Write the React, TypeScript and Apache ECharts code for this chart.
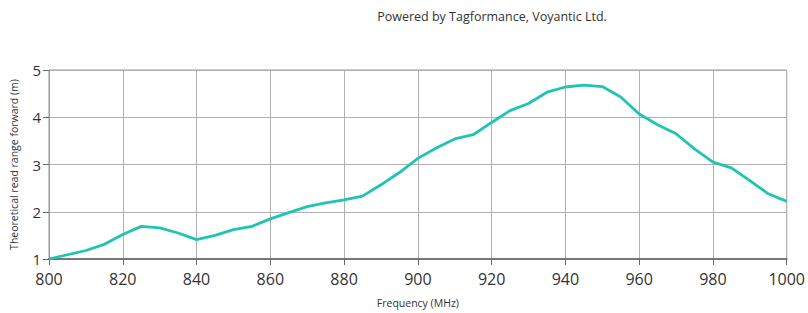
import React, { useEffect, useRef } from "react";
import * as echarts from "echarts";

const frequencies = [800, 805, 810, 815, 820, 825, 830, 835, 840, 845, 850, 855, 860, 865, 870, 875, 880, 885, 890, 895, 900, 905, 910, 915, 920, 925, 930, 935, 940, 945, 950, 955, 960, 965, 970, 975, 980, 985, 990, 995, 1000];
const readRange = [1.0, 1.09, 1.18, 1.31, 1.52, 1.69, 1.66, 1.55, 1.41, 1.5, 1.62, 1.69, 1.85, 1.98, 2.11, 2.19, 2.25, 2.33, 2.57, 2.83, 3.13, 3.35, 3.54, 3.63, 3.89, 4.14, 4.29, 4.53, 4.64, 4.68, 4.65, 4.43, 4.07, 3.84, 3.65, 3.33, 3.05, 2.93, 2.66, 2.38, 2.22];
const titleText = "Powered by Tagformance, Voyantic Ltd.";
const xAxisName = "Frequency (MHz)";
const yAxisName = "Theoretical read range forward (m)";

export default function App() {
  const ref = useRef<HTMLDivElement>(null);
  useEffect(() => {
    if (!ref.current) return;
    const chart = echarts.init(ref.current, null, { renderer: "svg" });
    const font = "'Open Sans', 'DejaVu Sans', sans-serif";
    chart.setOption({
      animation: false,
      backgroundColor: "#ffffff",
      title: {
        text: titleText,
        left: 487,
        top: 5,
        textAlign: "center",
        textStyle: { fontSize: 12.5, fontWeight: "normal", color: "#333", fontFamily: font },
      },
      grid: { left: 45, right: 18, top: 70, bottom: 53, show: true, borderColor: "#999", borderWidth: 1 },
      xAxis: {
        type: "value",
        min: 800,
        max: 1000,
        interval: 20,
        name: xAxisName,
        nameLocation: "middle",
        nameGap: 38,
        nameTextStyle: { fontSize: 10.5, color: "#333", fontFamily: font },
        axisLine: { show: true, lineStyle: { color: "#777", width: 2 } },
        axisTick: { show: true, length: 6, lineStyle: { color: "#666" } },
        axisLabel: { fontSize: 16, color: "#333", fontFamily: font, margin: 12, formatter: (v: number) => String(v) },
        splitLine: { show: true, lineStyle: { color: "#b0b0b0", width: 1 } },
      },
      yAxis: {
        type: "value",
        min: 1,
        max: 5,
        interval: 1,
        name: yAxisName,
        nameLocation: "middle",
        nameGap: 30,
        nameTextStyle: { fontSize: 10.5, color: "#333", fontFamily: font },
        axisLine: { show: true, lineStyle: { color: "#999", width: 1 } },
        axisTick: { show: true, length: 6, lineStyle: { color: "#666" } },
        axisLabel: { fontSize: 15, color: "#333", fontFamily: font, margin: 8 },
        splitLine: { show: true, lineStyle: { color: "#b0b0b0", width: 1 } },
      },
      series: [
        {
          type: "line",
          data: frequencies.map((f, i) => [f, readRange[i]]),
          showSymbol: false,
          lineStyle: { color: "#1fc4b2", width: 2.8 },
          itemStyle: { color: "#1fc4b2" },
        },
      ],
    });
    return () => chart.dispose();
  }, []);
  return <div ref={ref} style={{ position: "fixed", left: 0, top: 0, width: 808, height: 313 }} />;
}
